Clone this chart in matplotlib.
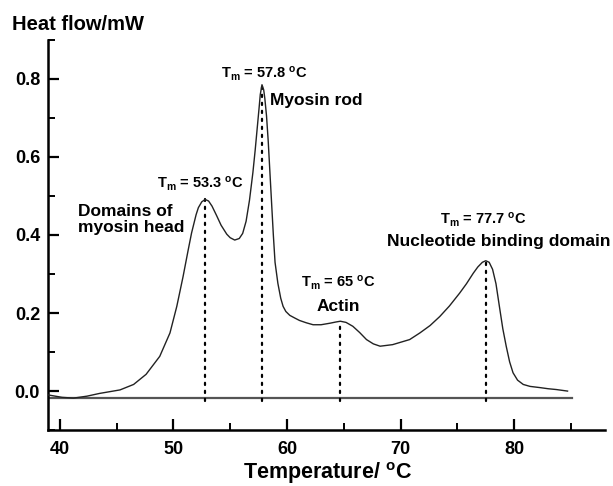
import matplotlib

matplotlib.use("Agg")
import matplotlib.pyplot as plt
from matplotlib.ticker import FormatStrFormatter, MultipleLocator

# DSC trace
temperature = [
    39.0, 40.2, 41.2, 42.4, 43.5, 45.3, 46.5, 47.6, 48.8, 49.7, 50.3, 50.85,
    51.3, 51.6, 52.0, 52.2, 52.5, 52.8, 53.1, 53.4, 53.8, 54.2, 54.7, 55.0,
    55.4, 55.8, 56.1, 56.4, 56.7, 57.0, 57.2, 57.4, 57.55, 57.65, 57.8,
    57.95, 58.05, 58.2, 58.35, 58.5, 58.65, 58.8, 58.95, 59.2, 59.45, 59.66,
    59.9, 60.25, 60.7, 61.1, 61.7, 62.3, 63.0, 63.8, 64.3, 64.7, 65.2, 65.8,
    66.4, 67.0, 67.6, 68.2, 69.3, 70.8, 71.7, 72.6, 73.45, 74.3, 75.2, 75.8,
    76.4, 76.8, 77.2, 77.5, 77.8, 78.1, 78.4, 78.7, 79.0, 79.3, 79.6, 79.9,
    80.3, 80.8, 81.4, 82.25, 83.0, 83.7, 84.7,
]
heat_flow = [
    -0.010, -0.016, -0.018, -0.013, -0.006, 0.003, 0.017, 0.043, 0.089,
    0.149, 0.217, 0.293, 0.361, 0.405, 0.452, 0.470, 0.485, 0.491, 0.487,
    0.474, 0.450, 0.425, 0.402, 0.393, 0.387, 0.391, 0.404, 0.435, 0.489,
    0.560, 0.617, 0.680, 0.727, 0.760, 0.785, 0.772, 0.750, 0.705, 0.640,
    0.560, 0.480, 0.400, 0.330, 0.276, 0.238, 0.217, 0.204, 0.194, 0.187,
    0.181, 0.175, 0.170, 0.170, 0.174, 0.177, 0.179, 0.176, 0.166, 0.150,
    0.132, 0.121, 0.115, 0.119, 0.132, 0.149, 0.168, 0.191, 0.218, 0.251,
    0.275, 0.302, 0.318, 0.330, 0.334, 0.330, 0.312, 0.275, 0.217, 0.160,
    0.115, 0.075, 0.047, 0.028, 0.017, 0.012, 0.009, 0.006, 0.004, 0.000,
]

baseline_y = -0.018
baseline_x = [39.0, 85.1]

peak_temps = [52.8, 57.8, 64.7, 77.5]
peak_heights = [0.491, 0.785, 0.179, 0.334]
peak_labels = ["53.3", "57.8", "65", "77.7"]

plt.rcParams["font.family"] = ["Liberation Sans", "DejaVu Sans"]
plt.rcParams["font.weight"] = "bold"
plt.rcParams["axes.labelweight"] = "bold"
plt.rcParams["mathtext.fontset"] = "custom"
plt.rcParams["mathtext.rm"] = "Liberation Sans:bold"
plt.rcParams["mathtext.it"] = "Liberation Sans:bold"
plt.rcParams["mathtext.bf"] = "Liberation Sans:bold"
plt.rcParams["mathtext.default"] = "rm"

fig = plt.figure(figsize=(6.13, 4.86), dpi=100)
ax = fig.add_axes([0.079, 0.115, 0.908, 0.803])

ax.plot(temperature, heat_flow, color="#222222", lw=1.0, zorder=3)
ax.plot(baseline_x, [baseline_y, baseline_y], color="#555555", lw=1.6, zorder=2)

for t, h in zip(peak_temps, peak_heights):
    ax.plot([t, t], [-0.026, h], color="black", lw=1.6,
            linestyle=(0, (1, 2.6)), dash_capstyle="round", zorder=2)

tm_fs = 10.5
lab_fs = 12.5
ax.text(58.0, 0.813, r"T$_\mathrm{m}$ = " + peak_labels[1] + r" $^\mathrm{o}$C",
        ha="center", va="center", fontsize=tm_fs)
ax.text(58.5, 0.744, "Myosin rod", ha="left", va="center", fontsize=lab_fs)
ax.text(52.4, 0.530, r"T$_\mathrm{m}$ = " + peak_labels[0] + r" $^\mathrm{o}$C",
        ha="center", va="center", fontsize=tm_fs)
ax.text(41.6, 0.44, "Domains of\nmyosin head", ha="left", va="center",
        fontsize=lab_fs, linespacing=1.05)
ax.text(64.55, 0.278, r"T$_\mathrm{m}$ = " + peak_labels[2] + r" $^\mathrm{o}$C",
        ha="center", va="center", fontsize=tm_fs)
ax.text(64.55, 0.218, "Actin", ha="center", va="center", fontsize=lab_fs)
ax.text(77.3, 0.438, r"T$_\mathrm{m}$ = " + peak_labels[3] + r" $^\mathrm{o}$C",
        ha="center", va="center", fontsize=tm_fs)
ax.text(68.8, 0.384, "Nucleotide binding domain", ha="left", va="center",
        fontsize=lab_fs)

ax.set_xlim(39.0, 88.0)
ax.set_ylim(-0.1, 0.9)
ax.xaxis.set_major_locator(MultipleLocator(10))
ax.xaxis.set_minor_locator(MultipleLocator(5))
ax.yaxis.set_major_locator(MultipleLocator(0.2))
ax.yaxis.set_minor_locator(MultipleLocator(0.1))
ax.set_xticks([40, 50, 60, 70, 80])
ax.set_yticks([0.0, 0.2, 0.4, 0.6, 0.8])
ax.yaxis.set_major_formatter(FormatStrFormatter("%.1f"))

for side in ["top", "right"]:
    ax.spines[side].set_visible(False)
for side in ["left", "bottom"]:
    ax.spines[side].set_linewidth(1.8)

ax.tick_params(which="major", direction="in", length=8, width=1.6,
               labelsize=13, pad=6)
ax.tick_params(which="minor", direction="in", length=5, width=1.4)
ax.tick_params(axis="x", which="major", pad=8)

fig.text(328 / 613, 1 - 479 / 486, r"Temperature/ $^\mathrm{o}$C", ha="center",
         va="baseline", fontsize=15.5)
fig.text(12 / 613, 1 - 25 / 486, "Heat flow/mW", ha="left", va="center",
         fontsize=14.5)

fig.savefig("out.png", dpi=100)
